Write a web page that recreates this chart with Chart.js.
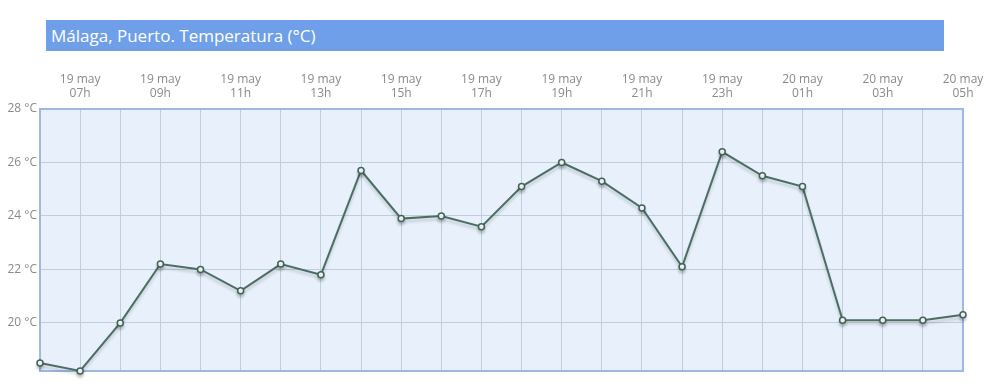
<!DOCTYPE html>
<html>
<head>
<meta charset="utf-8">
<script src="https://cdn.jsdelivr.net/npm/chart.js@4/dist/chart.umd.min.js"></script>
<style>
  html, body { margin: 0; padding: 0; background: #fff; }
  #wrap { position: relative; width: 988px; height: 386px; }
  #title {
    position: absolute; left: 46px; top: 20px; width: 898px; height: 31px;
    background: #6f9fe9; color: #fff; font-family: "Open Sans", sans-serif;
    font-size: 17px; line-height: 31px; padding-left: 5px; box-sizing: border-box;
  }
</style>
</head>
<body>
<div id="wrap">
  <canvas id="temp-chart" width="988" height="386"></canvas>
  <div id="title">Málaga, Puerto. Temperatura (°C)</div>
</div>
<script>
// Data
const days = ['19 may','19 may','19 may','19 may','19 may','19 may','19 may','19 may','19 may',
  '19 may','19 may','19 may','19 may','19 may','19 may','19 may','19 may','19 may',
  '20 may','20 may','20 may','20 may','20 may','20 may'];
const hours = ['06h','07h','08h','09h','10h','11h','12h','13h','14h','15h','16h','17h',
  '18h','19h','20h','21h','22h','23h','00h','01h','02h','03h','04h','05h'];
const temps = [18.5, 18.2, 20.0, 22.2, 22.0, 21.2, 22.2, 21.8, 25.7, 23.9, 24.0, 23.6,
  25.1, 26.0, 25.3, 24.3, 22.1, 26.4, 25.5, 25.1, 20.1, 20.1, 20.1, 20.3];
const yTicks = [20, 22, 24, 26, 28];

// Background + frame of the plot area
const areaPlugin = {
  id: 'area',
  beforeDraw(chart) {
    const { ctx, chartArea: a } = chart;
    ctx.save();
    ctx.fillStyle = '#e8f0fb';
    ctx.fillRect(a.left, a.top, a.right - a.left, a.bottom - a.top);
    ctx.restore();
  },
  beforeDatasetsDraw(chart) {
    const { ctx, chartArea: a } = chart;
    ctx.save();
    ctx.strokeStyle = '#9db8e2';
    ctx.lineWidth = 2;
    ctx.strokeRect(a.left, a.top, a.right - a.left, a.bottom - a.top);
    ctx.restore();
  },
  beforeDatasetDraw(chart) {
    const ctx = chart.ctx;
    ctx.save();
    ctx.shadowColor = 'rgba(0,0,0,0.18)';
    ctx.shadowBlur = 3;
    ctx.shadowOffsetY = 3;
  },
  afterDatasetDraw(chart) {
    chart.ctx.restore();
  }
};

const ctx = document.getElementById('temp-chart').getContext('2d');
new Chart(ctx, {
  type: 'line',
  data: {
    labels: hours,
    datasets: [{
      data: temps,
      borderColor: '#4b6e62',
      borderWidth: 2,
      pointBackgroundColor: '#ffffff',
      pointBorderColor: '#3f6357',
      pointBorderWidth: 1.5,
      pointRadius: 3,
      tension: 0,
      fill: false,
      clip: false
    }]
  },
  options: {
    responsive: false,
    animation: false,
    layout: { padding: { top: 59, right: 25, bottom: 15, left: 0 } },
    plugins: { legend: { display: false }, tooltip: { enabled: false } },
    scales: {
      x: {
        position: 'top',
        offset: false,
        grid: { color: '#c3ccdc', drawTicks: false },
        border: { display: false },
        ticks: {
          autoSkip: false,
          maxRotation: 0,
          padding: 8,
          color: '#8a8a8a',
          font: { family: 'Open Sans', size: 12 },
          callback: (v, i) => (i % 2 === 1 ? [days[i], hours[i]] : '')
        },
        afterFit: (s) => { s.height = 50; s.paddingLeft = 0; s.paddingRight = 0; }
      },
      y: {
        min: 18.2,
        max: 28,
        grid: { color: '#c3ccdc', drawTicks: false },
        border: { display: false },
        afterBuildTicks: (s) => { s.ticks = yTicks.map(v => ({ value: v })); },
        ticks: {
          padding: 3,
          color: '#8a8a8a',
          font: { family: 'Open Sans', size: 12 },
          callback: (v) => v + ' °C'
        },
        afterFit: (s) => { s.width = 40; }
      }
    }
  },
  plugins: [areaPlugin]
});
</script>
</body>
</html>
